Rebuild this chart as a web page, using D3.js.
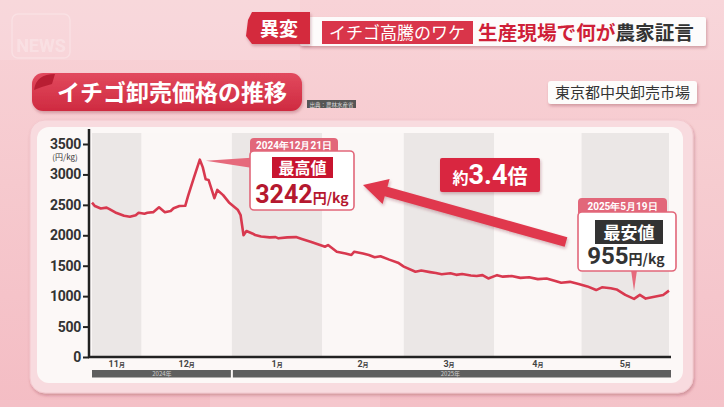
<!DOCTYPE html>
<html>
<head>
<meta charset="utf-8">
<script src="https://cdn.jsdelivr.net/npm/d3@7/dist/d3.min.js"></script>
<style>
  html, body { margin: 0; padding: 0; background: #f5c4ca; }
  svg { display: block; }
  .jp { font-family: "Noto Sans CJK JP", "Noto Sans", sans-serif; }
  .num { font-family: Roboto, "DejaVu Sans", sans-serif; }
</style>
</head>
<body>
<svg id="chart" width="724" height="407"></svg>
<script>
// ---------------- DATA ----------------
const dates = [
  "2024-11-14","2024-11-15","2024-11-17","2024-11-19","2024-11-20","2024-11-22","2024-11-25","2024-11-27",
  "2024-11-29","2024-11-30","2024-12-02","2024-12-03","2024-12-05","2024-12-07","2024-12-09","2024-12-11",
  "2024-12-12","2024-12-14","2024-12-16","2024-12-17","2024-12-19","2024-12-21","2024-12-22","2024-12-23",
  "2024-12-24","2024-12-26","2024-12-27","2024-12-29","2024-12-31","2025-01-03","2025-01-04","2025-01-05",
  "2025-01-06","2025-01-08","2025-01-09","2025-01-11","2025-01-14","2025-01-16","2025-01-17","2025-01-20",
  "2025-01-23","2025-01-25","2025-01-28","2025-02-02","2025-02-03","2025-02-06","2025-02-09","2025-02-11",
  "2025-02-12","2025-02-15","2025-02-17","2025-02-19","2025-02-21","2025-02-24","2025-02-27","2025-03-01",
  "2025-03-05","2025-03-07","2025-03-10","2025-03-12","2025-03-14","2025-03-17","2025-03-19","2025-03-21",
  "2025-03-24","2025-03-26","2025-03-28","2025-03-30","2025-04-02","2025-04-04","2025-04-07","2025-04-10",
  "2025-04-13","2025-04-16","2025-04-19","2025-04-22","2025-04-24","2025-04-27","2025-04-30","2025-05-03",
  "2025-05-06","2025-05-08","2025-05-11","2025-05-13","2025-05-16","2025-05-19","2025-05-21","2025-05-23",
  "2025-05-26","2025-05-29","2025-05-31"
];
const prices = [
  2535,2480,2440,2455,2430,2375,2320,2305,
  2330,2370,2355,2370,2380,2460,2380,2400,
  2445,2480,2485,2650,2950,3242,3120,2920,
  2910,2610,2745,2660,2540,2420,2330,2000,
  2070,2030,2005,1980,1965,1970,1950,1965,
  1970,1940,1895,1812,1840,1730,1700,1676,
  1730,1700,1676,1640,1655,1600,1550,1485,
  1400,1420,1395,1380,1360,1375,1350,1365,
  1340,1330,1345,1290,1345,1320,1330,1300,
  1310,1280,1290,1250,1220,1235,1200,1160,
  1100,1145,1130,1110,1020,955,1020,960,
  990,1020,1090
];
const yTicks = [0, 500, 1000, 1500, 2000, 2500, 3000, 3500];
const monthStarts = ["2024-11-14","2024-12-01","2025-01-01","2025-02-01","2025-03-01","2025-04-01","2025-05-01","2025-05-31"];
const monthLabels = ["11","12","1","2","3","4","5"];
const yearSegments = [
  {label: "2024年", start: "2024-11-14", end: "2025-01-01"},
  {label: "2025年", start: "2025-01-01", end: "2025-05-31"}
];
const maxPoint = {date: "2024-12-21", value: 3242, dateLabel: "2024年12月21日", title: "最高値"};
const minPoint = {date: "2025-05-19", value: 955, dateLabel: "2025年5月19日", title: "最安値"};
const ratioLabel = ["約", "3.4", "倍"];
const headline = {tag: "異変", box: "イチゴ高騰のワケ", red: "生産現場で何が", dark: "農家証言"};
const chartTitle = "イチゴ卸売価格の推移";
const sourceText = "出典：農林水産省";
const marketText = "東京都中央卸売市場";
const unitText = "(円/kg)";

// ---------------- SETUP ----------------
const parse = d3.timeParse("%Y-%m-%d");
const data = dates.map((d, i) => ({date: parse(d), value: prices[i]}));
const svg = d3.select("#chart");
const defs = svg.append("defs");

const bgGrad = defs.append("linearGradient").attr("id", "bg").attr("x1", 0).attr("y1", 0).attr("x2", 0).attr("y2", 1);
bgGrad.append("stop").attr("offset", "0%").attr("stop-color", "#f8d3d7");
bgGrad.append("stop").attr("offset", "45%").attr("stop-color", "#f6c9ce");
bgGrad.append("stop").attr("offset", "100%").attr("stop-color", "#f4bdc4");

const shadow = defs.append("filter").attr("id", "shadow").attr("x", "-20%").attr("y", "-20%").attr("width", "140%").attr("height", "160%");
shadow.append("feDropShadow").attr("dx", 1).attr("dy", 2).attr("stdDeviation", 1.5).attr("flood-color", "#7a2030").attr("flood-opacity", 0.3);

const ribbonGrad = defs.append("linearGradient").attr("id", "ribbon").attr("x1", 0).attr("y1", 0).attr("x2", 0).attr("y2", 1);
ribbonGrad.append("stop").attr("offset", "0%").attr("stop-color", "#e24a5e");
ribbonGrad.append("stop").attr("offset", "100%").attr("stop-color", "#cf2a40");

// Background
svg.append("rect").attr("width", 724).attr("height", 407).attr("fill", "url(#bg)");
const bgShapes = [[0,0,300,60,0.12],[440,0,284,60,0.08],[210,392,170,15,0.12],[560,120,170,300,0.06],[0,400,724,7,0.05]];
svg.selectAll("rect.bgs").data(bgShapes).join("rect").attr("class","bgs")
  .attr("x", d => d[0]).attr("y", d => d[1]).attr("width", d => d[2]).attr("height", d => d[3])
  .attr("fill", "#ffffff").attr("opacity", d => d[4]);
svg.append("rect").attr("x", 12).attr("y", 14).attr("width", 58).attr("height", 44).attr("rx", 6)
  .attr("fill", "none").attr("stroke", "#ffffff").attr("stroke-width", 1.5).attr("opacity", 0.25);
svg.append("text").attr("x", 41).attr("y", 52).attr("class", "num")
  .attr("font-size", 18).attr("font-weight", 700).attr("fill", "#ffffff").attr("opacity", 0.25)
  .attr("text-anchor", "middle").text("NEWS");

// ---------------- HEADER ----------------
svg.append("rect").attr("x", 300).attr("y", 17).attr("width", 406).attr("height", 29).attr("rx", 2)
  .attr("fill", "#fdfbfb").attr("filter", "url(#shadow)");
svg.append("path").attr("d", "M252,12 L310,12 L310,44 L252,44 L246,36 L248,20 Z").attr("fill", "#d42a3d").attr("filter", "url(#shadow)");
svg.append("text").attr("class", "jp").attr("x", 279).attr("y", 36).attr("text-anchor", "middle")
  .attr("font-size", 19).attr("font-weight", 700).attr("fill", "#fff").text(headline.tag);
svg.append("rect").attr("x", 322).attr("y", 21).attr("width", 151).attr("height", 23).attr("fill", "#d9354a");
svg.append("text").attr("class", "jp").attr("x", 397).attr("y", 39).attr("text-anchor", "middle")
  .attr("font-size", 17).attr("fill", "#fff").text(headline.box);
const hl = svg.append("text").attr("class", "jp").attr("x", 478).attr("y", 40)
  .attr("font-size", 19).attr("font-weight", 700).attr("textLength", 216).attr("lengthAdjust", "spacingAndGlyphs");
hl.append("tspan").attr("fill", "#cf1f38").text(headline.red);
hl.append("tspan").attr("fill", "#333").text(headline.dark);

// ---------------- TITLE RIBBON ----------------
svg.append("rect").attr("x", 32).attr("y", 73).attr("width", 270).attr("height", 38).attr("rx", 11)
  .attr("fill", "url(#ribbon)").attr("filter", "url(#shadow)");
svg.append("path").attr("d", "M34,90 Q36,74 55,74 L52,84 Q44,86 34,90 Z").attr("fill", "#b81e33");
svg.append("text").attr("class", "jp").attr("x", 172).attr("y", 101).attr("text-anchor", "middle")
  .attr("font-size", 23).attr("font-weight", 700).attr("fill", "#fff").text(chartTitle);
svg.append("rect").attr("x", 307).attr("y", 100).attr("width", 49).attr("height", 8).attr("fill", "#555");
svg.append("text").attr("class", "jp").attr("x", 331.5).attr("y", 106.5).attr("text-anchor", "middle")
  .attr("font-size", 5.5).attr("fill", "#ddd").text(sourceText);

svg.append("rect").attr("x", 548).attr("y", 81).attr("width", 149).attr("height", 23).attr("rx", 3)
  .attr("fill", "#fdfcfb").attr("filter", "url(#shadow)");
svg.append("text").attr("class", "jp").attr("x", 622.5).attr("y", 98).attr("text-anchor", "middle")
  .attr("font-size", 15).attr("fill", "#333").text(marketText);

// ---------------- CARD ----------------
svg.append("rect").attr("x", 30).attr("y", 120).attr("width", 663).attr("height", 273).attr("rx", 15)
  .attr("fill", "#f8dbdf").attr("stroke", "#f3c8ce").attr("stroke-width", 1).attr("filter", "url(#shadow)");
svg.append("rect").attr("x", 37).attr("y", 127).attr("width", 646).attr("height", 256).attr("rx", 12)
  .attr("fill", "#fcf8f7");

// ---------------- SCALES ----------------
const x = d3.scaleTime().domain([parse("2024-11-14"), parse("2025-05-31")]).range([92, 669]);
const y = d3.scaleLinear().domain([0, 3500]).range([357, 144]);
const plotTop = 133;

// month bands
const bands = monthStarts.slice(0, -1).map((s, i) => ({x0: x(parse(s)), x1: x(parse(monthStarts[i + 1])), i}));
svg.selectAll("rect.band").data(bands).join("rect").attr("class", "band")
  .attr("x", d => d.x0).attr("y", plotTop).attr("width", d => d.x1 - d.x0).attr("height", y(0) - plotTop)
  .attr("fill", d => d.i % 2 === 0 ? "#ebe7e6" : "#fbf7f6");

// Y axis
const yAxis = svg.append("g").attr("transform", `translate(89,0)`)
  .call(d3.axisLeft(y).tickValues(yTicks).tickFormat(d3.format("d")).tickSize(6).tickPadding(2));
yAxis.select(".domain").attr("stroke", "#222").attr("stroke-width", 2.5).attr("d", `M0,${y(0)}V${plotTop - 4}`);
yAxis.selectAll(".tick line").attr("stroke", "#222").attr("stroke-width", 2);
yAxis.selectAll(".tick text").attr("class", "num").attr("font-size", 14).attr("font-weight", 700)
  .attr("fill", "#333").attr("font-family", "Roboto, sans-serif").attr("letter-spacing", -0.3);
svg.append("text").attr("class", "jp").attr("x", 65).attr("y", 160).attr("text-anchor", "middle")
  .attr("font-size", 8).attr("fill", "#333").text(unitText);

// X axis
const xAxis = svg.append("g").attr("transform", `translate(0,${y(0)})`)
  .call(d3.axisBottom(x).tickValues([]).tickSize(0));
xAxis.select(".domain").attr("stroke", "#222").attr("stroke-width", 2.5).attr("d", `M88,0H671`);

// month labels
const mlab = svg.selectAll("text.month").data(bands).join("text").attr("class", "month num")
  .attr("x", d => (d.x0 + d.x1) / 2).attr("y", 366.5).attr("text-anchor", "middle")
  .attr("font-size", 9).attr("font-weight", 700).attr("fill", "#444");
mlab.append("tspan").text(d => monthLabels[d.i]);
mlab.append("tspan").attr("class", "jp").attr("font-size", 6).text("月");

// year bar
const ys = yearSegments.map(s => ({label: s.label, x0: x(parse(s.start)), x1: x(parse(s.end))}));
svg.selectAll("rect.year").data(ys).join("rect").attr("class", "year")
  .attr("x", (d, i) => d.x0 + (i ? 1 : 0)).attr("y", 370).attr("width", (d, i) => d.x1 - d.x0 - (i ? 0 : 1) + (i ? 1 : 0)).attr("height", 7.5)
  .attr("fill", "#5e5e5e");
svg.selectAll("text.year").data(ys).join("text").attr("class", "year jp")
  .attr("x", d => (d.x0 + d.x1) / 2).attr("y", 376).attr("text-anchor", "middle")
  .attr("font-size", 6).attr("fill", "#cfcfcf").text(d => d.label);

// Line
const line = d3.line().x(d => x(d.date)).y(d => y(d.value)).curve(d3.curveLinear);
svg.append("path").datum(data).attr("d", line).attr("fill", "none")
  .attr("stroke", "#d8394f").attr("stroke-width", 2.6).attr("stroke-linejoin", "round");

// ---------------- ANNOTATIONS ----------------
const mx = x(parse(maxPoint.date)), my = y(maxPoint.value);
svg.append("path").attr("d", `M${mx + 6},${my + 1} L251,${my - 2} L251,${my + 8} Z`).attr("fill", "#e66a7c");
svg.append("path").attr("d", "M250,152 L250,142 Q250,138 254,138 L334,138 Q338,138 338,142 L338,152 Z").attr("fill", "#e2677a");
svg.append("text").attr("class", "num").attr("x", 294).attr("y", 149).attr("text-anchor", "middle")
  .attr("font-size", 10).attr("font-weight", 700).attr("fill", "#fff")
  .text(maxPoint.dateLabel);
svg.append("rect").attr("x", 250).attr("y", 151).attr("width", 104).attr("height", 59).attr("rx", 4)
  .attr("fill", "#fff").attr("stroke", "#e2677a").attr("stroke-width", 1.6);
svg.append("rect").attr("x", 272).attr("y", 157).attr("width", 61).attr("height", 21).attr("fill", "#c8142f");
svg.append("text").attr("class", "jp").attr("x", 302.5).attr("y", 174).attr("text-anchor", "middle")
  .attr("font-size", 16).attr("font-weight", 700).attr("fill", "#fff").text(maxPoint.title);
const maxVal = svg.append("text").attr("x", 302).attr("y", 203).attr("text-anchor", "middle").attr("fill", "#b5182f").attr("font-weight", 700);
maxVal.append("tspan").attr("class", "num").attr("font-size", 25).text(maxPoint.value);
maxVal.append("tspan").attr("class", "jp").attr("font-size", 14).text("円/kg");

// big arrow
const tail = [566, 242], tip = [363, 185];
const dx = tip[0] - tail[0], dy = tip[1] - tail[1], L = Math.hypot(dx, dy);
const ux = dx / L, uy = dy / L, px = -uy, py = ux;
const headLen = 24, headW = 13, shaftW = 5;
const bx = tip[0] - ux * headLen, by = tip[1] - uy * headLen;
const arrowPts = [
  [tail[0] + px * shaftW, tail[1] + py * shaftW],
  [bx + px * shaftW, by + py * shaftW],
  [bx + px * headW, by + py * headW],
  tip,
  [bx - px * headW, by - py * headW],
  [bx - px * shaftW, by - py * shaftW],
  [tail[0] - px * shaftW, tail[1] - py * shaftW]
];
svg.append("path").attr("d", "M" + arrowPts.map(p => p.join(",")).join("L") + "Z")
  .attr("fill", "#e0384e").attr("filter", "url(#shadow)");

// ratio box
svg.append("rect").attr("x", 440).attr("y", 158).attr("width", 100).attr("height", 34).attr("rx", 2)
  .attr("fill", "#d9263f").attr("filter", "url(#shadow)");
const rt = svg.append("text").attr("x", 490).attr("y", 184).attr("text-anchor", "middle").attr("fill", "#fff").attr("font-weight", 700);
rt.append("tspan").attr("class", "jp").attr("font-size", 16).text(ratioLabel[0]);
rt.append("tspan").attr("class", "num").attr("font-size", 27).text(ratioLabel[1]);
rt.append("tspan").attr("class", "jp").attr("font-size", 20).text(ratioLabel[2]);

// min annotation
const nx = x(parse(minPoint.date)), ny = y(minPoint.value);
svg.append("path").attr("d", `M${nx - 3},270 L${nx + 3},270 L${nx},${ny - 8} Z`).attr("fill", "#e66a7c");
svg.append("path").attr("d", "M578,213 L578,202 Q578,198 582,198 L663,198 Q667,198 667,202 L667,213 Z").attr("fill", "#e2677a");
svg.append("text").attr("class", "num").attr("x", 622.5).attr("y", 209.5).attr("text-anchor", "middle")
  .attr("font-size", 10).attr("font-weight", 700).attr("fill", "#fff")
  .text(minPoint.dateLabel);
svg.append("rect").attr("x", 578).attr("y", 212).attr("width", 98).attr("height", 59).attr("rx", 4)
  .attr("fill", "#fff").attr("stroke", "#e2677a").attr("stroke-width", 1.6);
svg.append("rect").attr("x", 595).attr("y", 220).attr("width", 68).attr("height", 24).attr("fill", "#333");
svg.append("text").attr("class", "jp").attr("x", 629).attr("y", 238.5).attr("text-anchor", "middle")
  .attr("font-size", 17).attr("font-weight", 700).attr("fill", "#fff").text(minPoint.title);
const minVal = svg.append("text").attr("x", 626).attr("y", 264).attr("text-anchor", "middle").attr("fill", "#333").attr("font-weight", 700);
minVal.append("tspan").attr("class", "num").attr("font-size", 24).text(minPoint.value);
minVal.append("tspan").attr("class", "jp").attr("font-size", 14).text("円/kg");
</script>
</body>
</html>
